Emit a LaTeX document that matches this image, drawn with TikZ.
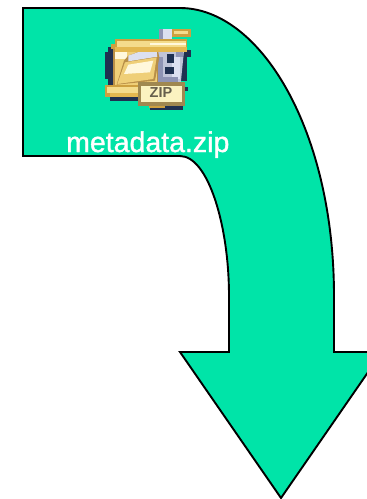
\documentclass[tikz,border=0pt]{standalone}
\usepackage{fontspec}
\setmainfont{Liberation Sans}
\definecolor{arrowfill}{HTML}{00E4A8}
\definecolor{navy}{HTML}{1F3050}
\definecolor{goldA}{HTML}{CDA040}
\definecolor{goldB}{HTML}{F4DC8C}
\definecolor{goldC}{HTML}{E3B850}
\definecolor{paleY}{HTML}{FFF8DC}
\definecolor{bodyY}{HTML}{EFCF78}
\definecolor{brownE}{HTML}{B88F48}
\definecolor{silverA}{HTML}{DCE0F0}
\definecolor{silverB}{HTML}{8F94B4}
\definecolor{silverC}{HTML}{C0C4D8}
\definecolor{labelB}{HTML}{A08850}
\definecolor{labelF}{HTML}{FBF2C0}
\definecolor{labelT}{HTML}{665F4C}
\tikzset{
  bigarrow/.style={draw=black,fill=arrowfill,line width=1.9pt,line join=miter},
  filename/.style={text=white,font=\fontsize{28.5}{30}\selectfont\addfontfeature{FakeBold=1.2},inner sep=0pt,anchor=base west},
  ziplabel/.style={text=labelT,font=\bfseries\fontsize{14.5}{15}\selectfont,inner sep=0pt,anchor=center}
}
\newcommand{\ipx}[5]{\fill[#1] (#2,#3) rectangle (#4,#5);}
\begin{document}
\begin{tikzpicture}[x=1pt,y=-1pt]
\useasboundingbox (0,0) rectangle (367,499);
\begin{scope}
\clip (0,0) rectangle (367,499);
\draw[bigarrow] (23,8) -- (180,8)
  .. controls (260,8) and (334,130) .. (334,296)
  -- (334,352) -- (382,352) -- (281,498) -- (180,352) -- (229,352) -- (229,296)
  .. controls (229,225) and (208,156) .. (180,156)
  -- (23,156) -- cycle;
\end{scope}
\begin{scope}[shift={(100,24)},x=0.3333pt,y=-0.3333pt]
  % dark shadow
  \ipx{navy}{15}{85}{40}{165}
  \ipx{navy}{24}{68}{45}{185}
  \ipx{navy}{30}{205}{120}{230}
  \ipx{navy}{150}{230}{248}{258}
  \ipx{navy}{250}{78}{272}{100}
  \ipx{navy}{240}{100}{262}{170}
  \ipx{navy}{255}{188}{264}{200}
  % silver zip
  \ipx{silverA}{178}{15}{215}{45}
  \fill[silverC] (170,80) -- (252,80) -- (242,180) -- (170,180) -- cycle;
  \ipx{silverB}{178}{15}{188}{45}
  \ipx{silverB}{170}{100}{190}{175}
  \ipx{silverB}{228}{85}{248}{100}
  \ipx{silverA}{215}{100}{240}{165}
  \ipx{navy}{200}{90}{222}{118}
  \ipx{navy}{196}{130}{222}{150}
  \ipx{silverB}{185}{160}{235}{175}
  % top-right tab
  \ipx{goldA}{215}{15}{272}{38}
  \ipx{goldB}{222}{21}{264}{30}
  % folder body
  \ipx{brownE}{40}{72}{175}{185}
  \ipx{bodyY}{45}{75}{170}{182}
  \ipx{paleY}{45}{78}{80}{105}
  \fill[brownE] (85,95) -- (170,62) -- (178,100) -- (165,170) -- (50,182) -- (72,110) -- cycle;
  \fill[silverA] (85,95) -- (168,65) -- (172,98) -- (85,112) -- cycle;
  \fill[bodyY] (75,115) -- (170,100) -- (160,165) -- (52,180) -- cycle;
  \fill[paleY] (85,122) -- (160,110) -- (150,145) -- (72,150) -- cycle;
  % folder top bar
  \ipx{goldA}{45}{45}{262}{84}
  \ipx{goldA}{32}{60}{50}{75}
  \ipx{goldB}{50}{52}{258}{70}
  \ipx{paleY}{150}{57}{258}{64}
  \ipx{goldC}{45}{70}{262}{84}
  % folder lower bar
  \ipx{goldA}{15}{183}{120}{220}
  \ipx{goldB}{22}{190}{120}{206}
  \ipx{goldC}{30}{206}{120}{218}
  \ipx{goldA}{148}{240}{195}{252}
  % label
  \ipx{labelB}{113}{175}{255}{245}
  \ipx{labelF}{122}{185}{247}{233}
\end{scope}
\node[ziplabel] (ziptext) at (161,93) {ZIP};
\node[filename] (fname) at (66,152) {metadata.zip};
\end{tikzpicture}
\end{document}
